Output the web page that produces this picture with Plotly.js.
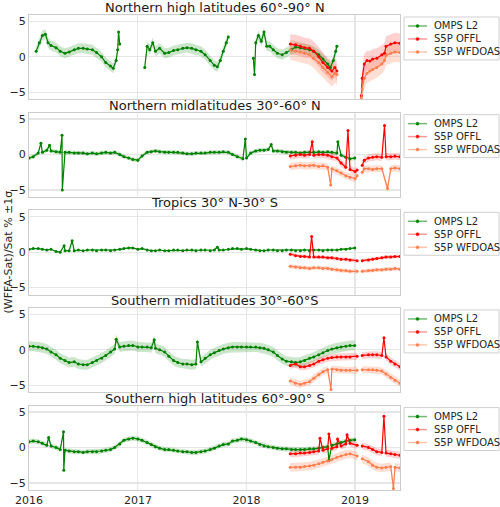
<!DOCTYPE html>
<html><head><meta charset="utf-8">
<script src="https://cdn.plot.ly/plotly-3.0.1.min.js"></script>
<style>body{margin:0;padding:0;background:#fff}#chart{width:500px;height:507px}</style>
</head><body><div id="chart"></div>
<script>
// ---------- DATA ----------
const seriesNames = ['OMPS L2', 'S5P OFFL', 'S5P WFDOAS'];
const panelTitles = ['Northern high latitudes 60°-90° N', 'Northern midlatitudes 30°-60° N',
  'Tropics 30° N-30° S', 'Southern midlatitudes 30°-60°S', 'Southern high latitudes 60°-90° S'];
const yTicks = [-5, 0, 5];
const xTickYears = ['2016-01-01', '2017-01-01', '2018-01-01', '2019-01-01'];

// Northern high latitudes
const nhhOmpsDates = ['2016-01-25','2016-02-05','2016-02-15','2016-02-25','2016-03-05','2016-03-15','2016-04-01','2016-04-15','2016-05-01','2016-05-15','2016-06-01','2016-06-15','2016-07-01','2016-07-15','2016-08-01','2016-08-15','2016-09-01','2016-09-15','2016-10-01','2016-10-10','2016-10-20','2016-10-25','2016-10-28','2016-11-01','2016-12-15',
 '2017-01-24','2017-02-01','2017-02-10','2017-02-20','2017-03-01','2017-03-15','2017-04-01','2017-04-15','2017-05-01','2017-05-15','2017-06-01','2017-06-15','2017-07-01','2017-07-15','2017-08-01','2017-08-15','2017-09-01','2017-09-15','2017-09-25','2017-10-05','2017-10-15','2017-10-25','2017-11-01','2017-12-15',
 '2018-01-24','2018-01-28','2018-02-01','2018-02-10','2018-02-20','2018-03-01','2018-03-10','2018-03-20','2018-04-01','2018-04-15','2018-05-01','2018-05-15','2018-06-01','2018-06-15','2018-07-01','2018-07-15','2018-08-01','2018-08-15','2018-09-01','2018-09-15','2018-10-01','2018-10-10','2018-10-20','2018-10-28','2018-11-01'];
const nhhOmps = [0.8,2.0,3.0,3.2,2.0,1.6,1.3,0.8,0.5,0.7,1.0,1.2,1.2,1.1,1.0,0.6,0.0,-0.8,-1.3,-1.6,-0.5,1.0,3.5,1.8,null,
 -1.5,1.5,1.0,2.0,0.8,1.2,0.5,0.6,0.9,1.0,1.2,1.3,1.2,1.0,0.8,0.3,-0.5,-1.2,-1.4,-0.5,0.8,2.0,2.8,null,
 -0.2,-2.5,2.0,3.0,2.2,3.5,1.5,1.5,1.0,0.5,0.3,0.6,1.0,1.4,1.3,1.2,1.0,0.8,0.3,-0.3,-1.0,-1.5,-0.5,0.8,1.5];
const nhhOfflDates = ['2018-05-28','2018-06-15','2018-07-01','2018-07-15','2018-08-01','2018-08-15','2018-09-01','2018-09-15','2018-10-01','2018-10-15','2018-10-25','2018-11-01','2018-12-15',
 '2019-01-22','2019-01-25','2019-02-01','2019-02-10','2019-02-20','2019-03-01','2019-03-15','2019-04-01','2019-04-10','2019-04-15','2019-05-01','2019-05-15','2019-06-01'];
const nhhOffl = [1.8,1.7,1.5,1.3,1.2,0.8,0.0,-0.8,-1.5,-2.0,-1.5,-2.0,null,
 -5.5,-3.0,-1.0,-0.5,-0.6,-0.3,-0.2,0.3,0.5,1.5,1.8,2.0,1.9];
const nhhWfdDates = nhhOfflDates;
const nhhWfd = [1.0,0.8,0.7,0.5,0.3,-0.2,-0.8,-1.5,-2.2,-2.8,-2.3,-2.5,null,
 -5.8,-4.5,-3.0,-2.3,-2.0,-1.8,-1.5,-1.0,-0.5,0.2,0.5,0.7,0.6];
const nhhSigma = [0.7, 1.4, 1.4];

// Northern midlatitudes
const nhmOmpsDates = ['2016-01-01','2016-01-15','2016-02-01','2016-02-10','2016-02-15','2016-03-01','2016-03-10','2016-03-15','2016-04-01','2016-04-15','2016-04-21','2016-04-22','2016-05-01','2016-05-15','2016-06-01','2016-06-15','2016-07-01','2016-07-15','2016-08-01','2016-08-15','2016-09-01','2016-09-15','2016-10-01','2016-10-15','2016-11-01','2016-11-15','2016-12-01','2016-12-15',
 '2017-01-01','2017-01-15','2017-02-01','2017-02-15','2017-03-01','2017-03-15','2017-04-01','2017-04-15','2017-05-01','2017-05-15','2017-06-01','2017-06-15','2017-07-01','2017-07-15','2017-08-01','2017-08-15','2017-09-01','2017-09-15','2017-10-01','2017-10-15','2017-11-01','2017-11-15','2017-12-01','2017-12-20','2017-12-28',
 '2018-01-01','2018-01-15','2018-02-01','2018-02-15','2018-03-01','2018-03-15','2018-03-25','2018-04-01','2018-04-15','2018-05-01','2018-05-15','2018-06-01','2018-06-15','2018-07-01','2018-07-15','2018-08-01','2018-08-15','2018-09-01','2018-09-15','2018-10-01','2018-10-15','2018-11-01','2018-11-04','2018-11-15','2018-12-01','2018-12-15','2018-12-31'];
const nhmOmps = [-0.5,-0.3,0.2,1.6,0.3,0.6,1.3,0.5,0.4,0.3,2.7,-5.0,0.3,0.3,0.2,0.2,0.2,0.1,0.2,0.1,0.2,0.3,0.2,0.3,0.0,-0.3,-0.5,-0.7,
 -0.8,-0.2,0.3,0.4,0.5,0.4,0.3,0.3,0.3,0.3,0.2,0.1,0.1,0.2,0.2,0.2,0.3,0.3,0.3,0.4,0.3,0.0,-0.3,-0.6,2.2,
 -0.5,0.2,0.5,0.6,0.6,0.7,1.4,0.5,0.5,0.4,0.3,0.3,0.3,0.2,0.3,0.3,0.3,0.4,0.3,0.4,0.3,0.2,1.8,-0.1,-0.4,-0.6,-0.5];
const nhmOfflDates = ['2018-05-28','2018-06-15','2018-07-01','2018-07-15','2018-08-01','2018-08-10','2018-08-15','2018-09-01','2018-09-15','2018-10-01','2018-10-15','2018-11-01','2018-11-15','2018-12-01','2018-12-08','2018-12-15',
 '2019-01-01','2019-01-08','2019-01-16','2019-01-25','2019-02-01','2019-02-15','2019-03-01','2019-03-15','2019-04-01','2019-04-10','2019-04-15','2019-05-01','2019-05-15','2019-06-01'];
const nhmOffl = [-0.2,-0.1,0.0,-0.1,0.0,1.8,-0.1,0.0,0.0,-0.1,-0.3,-0.5,-1.2,-1.8,3.4,-2.1,
 -2.4,-2.2,null,-1.5,-0.8,-0.5,-0.4,-0.3,-0.4,4.1,-0.3,-0.3,-0.2,-0.3];
const nhmWfdDates = ['2018-05-28','2018-06-15','2018-07-01','2018-07-15','2018-08-01','2018-08-15','2018-09-01','2018-09-15','2018-10-01','2018-10-11','2018-10-15','2018-11-01','2018-11-15','2018-12-01','2018-12-15',
 '2019-01-01','2019-01-08','2019-01-16','2019-01-25','2019-02-01','2019-02-15','2019-03-01','2019-03-15','2019-04-01','2019-04-20','2019-05-01','2019-05-15','2019-06-01'];
const nhmWfd = [-1.7,-1.6,-1.5,-1.6,-1.6,-1.5,-1.7,-1.6,-1.8,-4.3,-2.0,-2.3,-2.6,-3.0,-3.2,
 -3.4,-3.0,null,-2.5,-2.0,-2.0,-2.1,-2.0,-2.0,-4.8,-2.0,-1.9,-2.0];
const nhmSigma = [0.3, 0.5, 0.5];

// Tropics
const trpOmpsDates = ['2016-01-01','2016-01-15','2016-02-01','2016-02-15','2016-03-01','2016-03-15','2016-04-01','2016-04-15','2016-04-28','2016-05-01','2016-05-15','2016-05-25','2016-06-01','2016-06-15','2016-07-01','2016-07-15','2016-08-01','2016-08-15','2016-09-01','2016-09-15','2016-10-01','2016-10-15','2016-11-01','2016-11-15','2016-12-01','2016-12-15',
 '2017-01-01','2017-01-15','2017-02-01','2017-02-15','2017-03-01','2017-03-15','2017-04-01','2017-04-15','2017-05-01','2017-05-15','2017-06-01','2017-06-15','2017-07-01','2017-07-15','2017-08-01','2017-08-15','2017-09-01','2017-09-15','2017-09-25','2017-10-01','2017-10-15','2017-11-01','2017-11-15','2017-12-01','2017-12-15',
 '2018-01-01','2018-01-15','2018-02-01','2018-02-15','2018-03-01','2018-03-15','2018-04-01','2018-04-15','2018-05-01','2018-05-15','2018-06-01','2018-06-15','2018-07-01','2018-07-15','2018-08-01','2018-08-15','2018-09-01','2018-09-15','2018-10-01','2018-10-15','2018-11-01','2018-11-15','2018-12-01','2018-12-15','2018-12-31'];
const trpOmps = [0.4,0.5,0.5,0.4,0.3,0.4,0.1,0.0,0.9,0.2,0.2,1.6,0.2,0.3,0.2,0.3,0.3,0.2,0.3,0.3,0.2,0.3,0.4,0.5,0.6,0.6,
 0.4,0.5,0.3,0.2,0.2,0.3,0.2,0.2,0.3,0.3,0.2,0.3,0.3,0.2,0.3,0.3,0.2,0.3,0.7,0.3,0.3,0.4,0.5,0.5,0.4,
 0.5,0.4,0.3,0.2,0.2,0.3,0.3,0.2,0.2,0.3,0.3,0.2,0.2,0.3,0.2,0.3,0.3,0.2,0.3,0.3,0.3,0.4,0.4,0.5,0.6];
const trpOfflDates = ['2018-05-28','2018-06-15','2018-07-01','2018-07-15','2018-08-01','2018-08-08','2018-08-15','2018-09-01','2018-09-15','2018-10-01','2018-10-15','2018-11-01','2018-11-15','2018-12-01','2018-12-15',
 '2019-01-08','2019-01-16','2019-01-25','2019-02-15','2019-03-01','2019-03-15','2019-04-01','2019-04-15','2019-05-01','2019-05-15','2019-06-01'];
const trpOffl = [-0.3,-0.5,-0.6,-0.6,-0.7,2.2,-0.7,-0.7,-0.7,-0.8,-0.8,-0.9,-1.0,-1.0,-1.1,
 -1.2,null,-1.2,-1.1,-1.0,-0.9,-0.8,-0.7,-0.7,-0.6,-0.6];
const trpWfdDates = ['2018-05-28','2018-06-15','2018-07-01','2018-07-15','2018-08-01','2018-08-15','2018-09-01','2018-09-15','2018-10-01','2018-10-15','2018-11-01','2018-11-15','2018-12-01','2018-12-15',
 '2019-01-08','2019-01-16','2019-01-25','2019-02-15','2019-03-01','2019-03-15','2019-04-01','2019-04-15','2019-05-01','2019-05-15','2019-06-01'];
const trpWfd = [-2.0,-2.1,-2.2,-2.2,-2.3,-2.2,-2.2,-2.3,-2.3,-2.4,-2.5,-2.6,-2.6,-2.7,
 -2.7,null,-2.7,-2.6,-2.6,-2.5,-2.5,-2.4,-2.4,-2.3,-2.4];
const trpSigma = [0.1, 0.25, 0.3];

// Southern midlatitudes
const shmOmpsDates = ['2016-01-01','2016-01-15','2016-02-01','2016-02-15','2016-03-01','2016-03-15','2016-04-01','2016-04-15','2016-05-01','2016-05-15','2016-06-01','2016-06-15','2016-07-01','2016-07-15','2016-08-01','2016-08-15','2016-09-01','2016-09-15','2016-10-01','2016-10-15','2016-10-20','2016-11-01','2016-11-15','2016-12-01','2016-12-15',
 '2017-01-01','2017-01-15','2017-02-01','2017-02-15','2017-02-25','2017-03-01','2017-03-15','2017-04-01','2017-04-15','2017-05-01','2017-05-15','2017-06-01','2017-06-15','2017-07-01','2017-07-15','2017-07-20','2017-08-01','2017-08-15','2017-09-01','2017-09-15','2017-10-01','2017-10-15','2017-11-01','2017-11-15','2017-12-01','2017-12-15',
 '2018-01-01','2018-01-15','2018-02-01','2018-02-15','2018-03-01','2018-03-15','2018-04-01','2018-04-15','2018-05-01','2018-05-15','2018-06-01','2018-06-15','2018-07-01','2018-07-15','2018-08-01','2018-08-15','2018-09-01','2018-09-15','2018-10-01','2018-10-15','2018-11-01','2018-11-15','2018-12-01','2018-12-15','2018-12-31'];
const shmOmps = [0.5,0.5,0.4,0.3,0.1,-0.3,-0.7,-1.2,-1.5,-1.8,-1.7,-2.0,-2.1,-2.1,-1.8,-1.5,-1.2,-0.8,-0.3,0.1,1.5,0.4,0.5,0.6,0.6,
 0.4,0.4,0.4,0.3,1.4,0.2,0.0,-0.3,-0.9,-1.5,-1.8,-2.0,-2.0,-2.1,-2.0,1.1,-1.7,-1.2,-0.7,-0.4,-0.1,0.1,0.3,0.4,0.4,0.4,
 0.4,0.4,0.4,0.3,0.2,0.0,-0.3,-0.8,-1.3,-1.6,-1.7,-1.8,-1.7,-1.5,-1.2,-1.0,-0.7,-0.4,-0.1,0.1,0.3,0.4,0.5,0.6,0.6];
const shmOfflDates = ['2018-05-28','2018-06-15','2018-07-01','2018-07-15','2018-08-01','2018-08-15','2018-09-01','2018-09-15','2018-10-01','2018-10-15','2018-11-01','2018-11-15','2018-12-01','2018-12-15',
 '2019-01-08','2019-01-16','2019-01-25','2019-02-15','2019-03-01','2019-03-15','2019-04-01','2019-04-08','2019-04-15','2019-05-01','2019-05-15','2019-06-01'];
const shmOffl = [-2.2,-2.0,-2.4,-2.4,-2.2,-2.0,-1.6,-1.4,-1.2,-1.1,-1.0,-1.0,-1.0,-1.0,
 -0.9,null,-0.8,-0.7,-0.7,-0.7,-0.8,1.7,-1.0,-1.6,-2.0,-2.4];
const shmWfdDates = ['2018-05-28','2018-06-15','2018-07-01','2018-07-15','2018-08-01','2018-08-15','2018-09-01','2018-09-15','2018-10-01','2018-10-12','2018-10-15','2018-11-01','2018-11-15','2018-12-01','2018-12-15',
 '2019-01-08','2019-01-16','2019-01-25','2019-02-15','2019-03-01','2019-03-15','2019-04-01','2019-04-15','2019-05-01','2019-05-15','2019-06-01'];
const shmWfd = [-4.4,-4.7,-4.9,-4.7,-4.5,-4.0,-3.5,-3.1,-2.8,-5.6,-2.7,-2.8,-2.9,-2.9,-2.9,
 -2.9,null,-2.8,-2.8,-2.8,-2.9,-3.0,-3.4,-3.9,-4.3,-4.7];
const shmSigma = [0.7, 0.5, 0.5];

// Southern high latitudes
const shhOmpsDates = ['2016-01-01','2016-01-15','2016-02-01','2016-02-15','2016-03-01','2016-03-07','2016-03-15','2016-04-01','2016-04-15','2016-04-26','2016-04-27','2016-05-01','2016-05-15','2016-06-01','2016-06-15','2016-07-01','2016-07-15','2016-08-01','2016-08-15','2016-09-01','2016-09-15','2016-10-01','2016-10-15','2016-11-01','2016-11-15','2016-12-01','2016-12-15',
 '2017-01-01','2017-01-15','2017-02-01','2017-02-15','2017-03-01','2017-03-15','2017-04-01','2017-04-15','2017-05-01','2017-05-15','2017-06-01','2017-06-15','2017-07-01','2017-07-15','2017-08-01','2017-08-15','2017-09-01','2017-09-15','2017-10-01','2017-10-15','2017-11-01','2017-11-15','2017-12-01','2017-12-15',
 '2018-01-01','2018-01-15','2018-02-01','2018-02-15','2018-03-01','2018-03-15','2018-04-01','2018-04-15','2018-05-01','2018-05-15','2018-06-01','2018-06-15','2018-07-01','2018-07-15','2018-08-01','2018-08-15','2018-09-01','2018-09-15','2018-10-01','2018-10-05','2018-10-15','2018-11-01','2018-11-15','2018-12-01','2018-12-15','2018-12-31'];
const shhOmps = [0.8,0.9,0.8,0.6,0.3,1.4,0.2,0.0,-0.3,2.2,-3.2,-0.4,-0.5,-0.6,-0.6,-0.7,-0.6,-0.6,-0.6,-0.5,-0.4,-0.3,0.0,0.5,1.0,1.2,1.3,
 1.2,1.0,0.7,0.4,0.1,-0.1,-0.3,-0.3,-0.4,-0.5,-0.6,-0.6,-0.7,-0.7,-0.6,-0.5,-0.3,-0.1,0.2,0.4,0.5,0.9,1.0,1.2,
 1.1,0.9,0.7,0.4,0.2,0.1,0.0,-0.1,-0.2,-0.2,-0.3,-0.3,-0.3,-0.3,-0.2,-0.2,-0.1,0.0,0.1,-1.8,0.3,0.5,0.7,0.9,1.0,1.1];
const shhOfflDates = ['2018-05-28','2018-06-15','2018-07-01','2018-07-15','2018-08-01','2018-08-15','2018-09-01','2018-09-05','2018-09-15','2018-10-01','2018-10-05','2018-10-15','2018-11-01','2018-11-03','2018-11-15','2018-12-01','2018-12-05','2018-12-15',
 '2019-01-08','2019-01-16','2019-01-25','2019-02-15','2019-03-01','2019-03-15','2019-04-01','2019-04-08','2019-04-15','2019-05-01','2019-05-15','2019-06-01'];
const shhOffl = [-0.9,-0.9,-0.8,-0.8,-0.7,-0.6,-0.5,1.3,-0.4,-0.2,1.9,-0.1,0.1,1.2,0.2,0.5,1.8,0.6,
 0.3,null,0.2,0.0,-0.3,-0.6,-0.7,4.4,-0.8,-0.9,-1.0,-1.1];
const shhWfdDates = ['2018-05-28','2018-06-15','2018-07-01','2018-07-15','2018-08-01','2018-08-15','2018-09-01','2018-09-15','2018-10-01','2018-10-15','2018-11-01','2018-11-15','2018-12-01','2018-12-15',
 '2019-01-08','2019-01-16','2019-01-25','2019-02-15','2019-03-01','2019-03-15','2019-04-01','2019-04-15','2019-05-01','2019-05-10','2019-05-15','2019-06-01'];
const shhWfd = [-2.8,-2.8,-2.8,-2.7,-2.6,-2.5,-2.3,-2.1,-1.9,-1.7,-1.4,-1.2,-1.0,-0.9,
 -1.2,null,-1.6,-2.0,-2.5,-2.8,-2.9,-2.8,-2.7,-5.8,-2.8,-2.9];
const shhSigma = [0.35, 0.5, 0.6];

// ---------- BUILD ----------
const panels = [
  {series: [[nhhOmpsDates, nhhOmps], [nhhOfflDates, nhhOffl], [nhhWfdDates, nhhWfd]], sigma: nhhSigma},
  {series: [[nhmOmpsDates, nhmOmps], [nhmOfflDates, nhmOffl], [nhmWfdDates, nhmWfd]], sigma: nhmSigma},
  {series: [[trpOmpsDates, trpOmps], [trpOfflDates, trpOffl], [trpWfdDates, trpWfd]], sigma: trpSigma},
  {series: [[shmOmpsDates, shmOmps], [shmOfflDates, shmOffl], [shmWfdDates, shmWfd]], sigma: shmSigma},
  {series: [[shhOmpsDates, shhOmps], [shhOfflDates, shhOffl], [shhWfdDates, shhWfd]], sigma: shhSigma}
];
const lineColors = ['#008000', '#ff0000', '#ff7f50'];
const legendLineColors = ['rgba(0,128,0,0.55)', 'rgba(255,0,0,0.4)', 'rgba(255,127,80,0.45)'];
const bandColors = ['rgba(0,128,0,0.2)', 'rgba(255,0,0,0.18)', 'rgba(255,127,80,0.25)'];
const FONT = 'DejaVu Sans, sans-serif';

// pixel layout
const W = 500, H = 507, mL = 29, mR = 100, mT = 15, mB = 16.5;
const plotW = W - mL - mR, plotH = H - mT - mB;
const panelH = 84.5, panelGap = 13.25;
const px = x => (x - mL) / plotW;          // pixel -> paper x
const py = y => (H - mB - y) / plotH;      // pixel -> paper y

function segments(d, v) {
  const segs = []; let cur = null;
  for (let i = 0; i < v.length; i++) {
    if (v[i] === null) { cur = null; continue; }
    if (!cur) { cur = {x: [], y: []}; segs.push(cur); }
    cur.x.push(d[i]); cur.y.push(v[i]);
  }
  return segs;
}

const traces = [];
const layout = {
  width: W, height: H, margin: {l: mL, r: mR, t: mT, b: mB},
  paper_bgcolor: '#fff', plot_bgcolor: '#fff', showlegend: false,
  font: {family: FONT, size: 11, color: '#262626'},
  annotations: [], shapes: []
};

panels.forEach((p, i) => {
  const sfx = i === 0 ? '' : String(i + 1);
  const xa = 'x' + sfx, ya = 'y' + sfx;
  const top = mT + i * (panelH + panelGap), bot = top + panelH;
  const d0 = py(bot), d1 = py(top);
  // bands
  p.series.forEach((s, k) => {
    const sg = p.sigma[k];
    segments(s[0], s[1]).forEach(seg => {
      traces.push({
        x: seg.x.concat(seg.x.slice().reverse()),
        y: seg.y.map(v => v + sg).concat(seg.y.map(v => v - sg).reverse()),
        xaxis: xa, yaxis: ya, mode: 'lines', fill: 'toself', fillcolor: bandColors[k],
        line: {width: 0}, hoverinfo: 'skip', showlegend: false
      });
    });
  });
  // lines
  p.series.forEach((s, k) => {
    traces.push({
      x: s[0], y: s[1], xaxis: xa, yaxis: ya, name: seriesNames[k],
      mode: 'lines+markers', connectgaps: false,
      line: {color: lineColors[k], width: 1.2}, marker: {color: lineColors[k], size: 3}
    });
  });
  layout['xaxis' + sfx] = {
    type: 'date', range: ['2016-01-01', '2019-06-01'], anchor: ya,
    tickvals: xTickYears, ticktext: xTickYears.map(t => t.slice(0, 4)),
    showticklabels: i === 4, ticks: '', showgrid: true, gridcolor: '#e6e6e6', gridwidth: 1.2,
    showline: true, linecolor: '#cccccc', linewidth: 1, mirror: true, zeroline: false,
    tickfont: {size: 11, color: '#262626'}, automargin: false
  };
  layout['yaxis' + sfx] = {
    domain: [d0, d1], range: [-6, 5.9], anchor: xa, tickvals: yTicks,
    ticks: '', showgrid: true, gridcolor: '#e6e6e6', gridwidth: 1.2,
    showline: true, linecolor: '#cccccc', linewidth: 1, mirror: true, zeroline: false,
    tickfont: {size: 11, color: '#262626'}, automargin: false
  };
  // panel title
  layout.annotations.push({
    text: panelTitles[i], xref: 'paper', yref: 'paper', x: 0.5, y: d1,
    xanchor: 'center', yanchor: 'bottom', showarrow: false, yshift: -2,
    font: {family: FONT, size: 13, color: '#1a1a1a'}
  });
  // legend box (matplotlib-style, one per panel)
  const lt = top + 2, lb = top + 45, ll = 404, lr = 499;
  layout.shapes.push({
    type: 'rect', xref: 'paper', yref: 'paper', x0: px(ll), x1: px(lr), y0: py(lb), y1: py(lt),
    line: {color: '#d0d0d0', width: 1}, fillcolor: 'rgba(255,255,255,0.9)', layer: 'above'
  });
  seriesNames.forEach((nm, k) => {
    const ry = top + 11 + 13 * k;
    layout.shapes.push({
      type: 'line', xref: 'paper', yref: 'paper', x0: px(408), x1: px(427), y0: py(ry), y1: py(ry),
      line: {color: legendLineColors[k], width: 1.5}, layer: 'above'
    });
    layout.shapes.push({
      type: 'circle', xref: 'paper', yref: 'paper', x0: px(416), x1: px(419), y0: py(ry + 1.5), y1: py(ry - 1.5),
      line: {color: lineColors[k], width: 0.5}, fillcolor: lineColors[k], layer: 'above'
    });
    layout.annotations.push({
      text: nm, xref: 'paper', yref: 'paper', x: px(432), y: py(ry),
      xanchor: 'left', yanchor: 'middle', showarrow: false,
      font: {family: FONT, size: 10, color: '#262626'}
    });
  });
});
layout.annotations.push({
  text: '(WFFA-Sat)/Sat % ±1σ', xref: 'paper', yref: 'paper',
  x: px(8), y: 0.5, xanchor: 'center', yanchor: 'middle',
  textangle: -90, showarrow: false, font: {family: FONT, size: 11, color: '#262626'}
});

Plotly.newPlot('chart', traces, layout, {displayModeBar: false, staticPlot: true});
</script></body></html>
